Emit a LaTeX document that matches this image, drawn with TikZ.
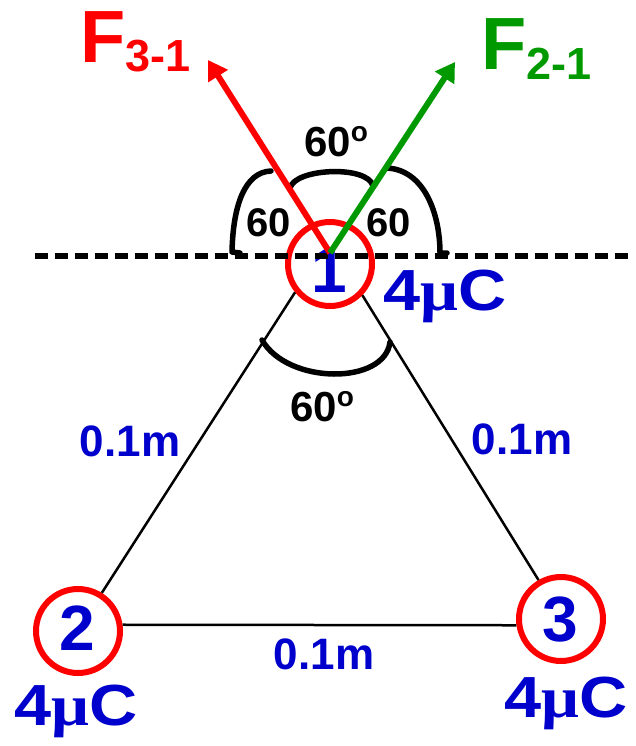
\documentclass[tikz,border=0pt]{standalone}
\usepackage{fontspec}
\setmainfont{Liberation Sans}
\newfontfamily\mufont{Liberation Serif}
\usetikzlibrary{arrows.meta}
\definecolor{cred}{RGB}{255,0,0}
\definecolor{cgreen}{RGB}{0,153,0}
\definecolor{cblue}{RGB}{0,0,204}
\newcommand{\fsz}[1]{\fontsize{#1}{#1}\selectfont}
\begin{document}
\begin{tikzpicture}[x=1pt,y=-1pt,
  charge/.style={circle, draw=cred, line width=6pt, minimum size=84pt, inner sep=0pt},
  digit/.style={text=cblue, font=\bfseries\fsz{64}, inner sep=0pt},
  qlabel/.style={text=cblue, font=\bfseries\fsz{58}, inner sep=0pt, anchor=base},
  dist/.style={text=cblue, font=\bfseries\fsz{44}, inner sep=0pt, anchor=base},
  ang/.style={text=black, font=\bfseries\fsz{40}, inner sep=0pt, anchor=base},
  degang/.style={text=black, font=\bfseries\fsz{42}, inner sep=0pt, anchor=base west},
  flabel/.style={font=\bfseries\fsz{74}, inner sep=0pt, anchor=base west},
  side/.style={line width=2.5pt, black},
  arcline/.style={line width=5.5pt, black, line cap=round, line join=round},
  dashline/.style={line width=6pt, black, dash pattern=on 13pt off 7pt},
  force/.style={line width=6pt, -{Triangle[length=19pt,width=22pt]}},
]
\useasboundingbox (0,0) rectangle (635,746);

% charges
\node[charge] (c1) at (330,264) {};
\node[charge] (c2) at (78,631) {};
\node[charge] (c3) at (561,619) {};
\node[digit] (d1) at (329,270) {1};
\node[digit] (d2) at (77.5,628.5) {2};
\node[digit] (d3) at (560,620) {3};

% triangle sides
\draw[side] (c1.219) -- (c2.58);
\draw[side] (c1.-44) -- (c3.120);
\draw[side] (c2.8) -- (c3.188);

% dashed horizontal
\coordinate (dl) at (35,256);
\coordinate (dr) at (635,256);
\draw[dashline] (dl) -- (dr);

% angle arcs
\coordinate (a1s) at (232,252);
\coordinate (a1e) at (271,171);
\draw[arcline] (240,253) -- (a1s) .. controls (233,205) and (245,172) .. (a1e);
\coordinate (a2s) at (290,188);
\coordinate (a2e) at (373,186);
\draw[arcline] (a2s) .. controls (295,168) and (368,165) .. (a2e);
\coordinate (a3s) at (387,168);
\coordinate (a3e) at (440,253);
\draw[arcline] (a3s) .. controls (425,170) and (440,215) .. (a3e) -- (447,253);
\coordinate (a4s) at (262,340);
\coordinate (a4e) at (390,342);
\draw[arcline] (a4s) .. controls (288,385) and (385,385) .. (a4e);

% forces
\coordinate (o) at (330,253);
\coordinate (t3) at (208,60);
\coordinate (t2) at (455,62);
\draw[force, cred] (o) -- (t3);
\draw[force, cgreen] (o) -- (t2);

% labels
\node[flabel, text=cred] (f31) at (80,63) {F\raisebox{-9pt}{\fsz{45}3-1}};
\node[flabel, text=cgreen] (f21) at (481,70) {F\raisebox{-10pt}{\fsz{45}2-1}};

\node[ang] (l60a) at (269,236) {60};
\node[ang] (l60b) at (389,236) {60};
\node[degang] (l60t) at (304,157) {60\raisebox{15pt}{\fsz{28}o}};
\node[degang] (l60d) at (290,421) {60\raisebox{15pt}{\fsz{28}o}};

\node[qlabel] (q1) at (445,310) {\scalebox{1.15}[1]{4{\mufont\bfseries μ}C}};
\node[qlabel] (q2) at (76,725) {\scalebox{1.15}[1]{4{\mufont\bfseries μ}C}};
\node[qlabel] (q3) at (566,717) {\scalebox{1.15}[1]{4{\mufont\bfseries μ}C}};

\node[dist] (m12) at (130,456) {0.1m};
\node[dist] (m13) at (522,454) {0.1m};
\node[dist] (m23) at (324,669) {0.1m};
\end{tikzpicture}
\end{document}
